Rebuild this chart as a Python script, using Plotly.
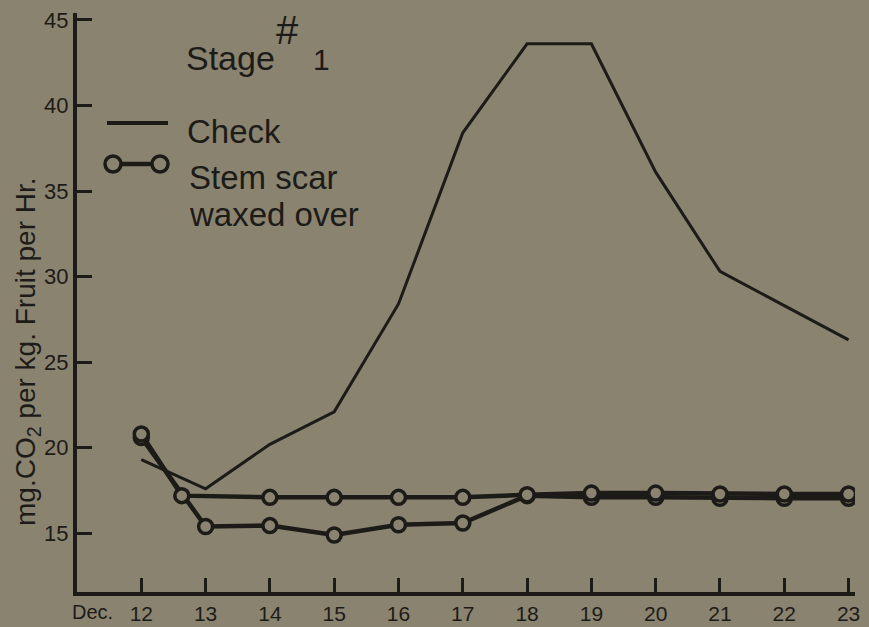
import plotly.graph_objects as go

# ---- data ----
check_days = [12, 13, 14, 15, 16, 17, 18, 19, 20, 21, 22, 23]
check_vals = [19.3, 17.6, 20.2, 22.1, 28.4, 38.4, 43.6, 43.6, 36.1, 30.3, 28.3, 26.3]

waxed_a_days = [12, 12.63, 14, 15, 16, 17, 18, 19, 20, 21, 22, 23]
waxed_a_vals = [20.8, 17.2, 17.1, 17.1, 17.1, 17.1, 17.25, 17.35, 17.35, 17.3, 17.3, 17.3]

waxed_b_days = [12, 13, 14, 15, 16, 17, 18, 19, 20, 21, 22, 23]
waxed_b_vals = [20.6, 15.4, 15.45, 14.9, 15.5, 15.6, 17.2, 17.1, 17.1, 17.05, 17.05, 17.05]

x_ticks = [12, 13, 14, 15, 16, 17, 18, 19, 20, 21, 22, 23]
x_tick_labels = ["12", "13", "14", "15", "16", "17", "18", "19", "20", "21", "22", "23"]
y_ticks = [15, 20, 25, 30, 35, 40, 45]
y_tick_labels = ["15", "20", "25", "30", "35", "40", "45"]

BG = "#8a8370"
INK = "#1d1b17"
FONT = "Liberation Sans"

W, H = 869, 627
L, R, T, B = 77, 14, 13, 35
PW, PH = W - L - R, H - T - B


def px(x):
    return (x - L) / PW


def py(y):
    return (H - B - y) / PH


fig = go.Figure()

fig.add_trace(go.Scatter(
    x=check_days, y=check_vals, mode="lines",
    line=dict(color=INK, width=3), name="Check", showlegend=False))

for d, v in ((waxed_b_days, waxed_b_vals), (waxed_a_days, waxed_a_vals)):
    fig.add_trace(go.Scatter(
        x=d, y=v, mode="lines+markers",
        line=dict(color=INK, width=4.5),
        marker=dict(symbol="circle", size=14, color=BG,
                    line=dict(color=INK, width=3.5)),
        showlegend=False))

fig.update_layout(
    template="none",
    width=W, height=H,
    margin=dict(l=L, r=R, t=T, b=B, autoexpand=False),
    paper_bgcolor=BG, plot_bgcolor=BG,
    font=dict(family=FONT, color=INK),
    showlegend=False,
    xaxis=dict(range=[11, 23.1], tickvals=x_ticks, ticktext=x_tick_labels,
               ticks="inside", ticklen=14, tickwidth=3, tickcolor=INK,
               showline=True, linewidth=4, linecolor=INK,
               showgrid=False, zeroline=False, automargin=False,
               tickfont=dict(size=21, color=INK), fixedrange=True),
    yaxis=dict(range=[11.57, 45.4], tickvals=y_ticks, ticktext=y_tick_labels,
               ticks="inside", ticklen=15, tickwidth=3, tickcolor=INK,
               showline=True, linewidth=4, linecolor=INK,
               showgrid=False, zeroline=False, automargin=False,
               tickfont=dict(size=22, color=INK), fixedrange=True),
)

# legend samples drawn as shapes
fig.add_shape(type="line", xref="paper", yref="paper",
              x0=px(107), x1=px(168), y0=py(123), y1=py(123),
              line=dict(color=INK, width=4))
fig.add_shape(type="line", xref="paper", yref="paper",
              x0=px(113), x1=px(160), y0=py(164), y1=py(164),
              line=dict(color=INK, width=4.5))
for cx in (113, 160):
    fig.add_shape(type="circle", xref="paper", yref="paper",
                  x0=px(cx - 8), x1=px(cx + 8), y0=py(164 + 8), y1=py(164 - 8),
                  line=dict(color=INK, width=3.5), fillcolor=BG)


def ann(text, x, y, size, xanchor="left", yanchor="middle", angle=0):
    fig.add_annotation(text=text, xref="paper", yref="paper",
                       x=px(x), y=py(y), xanchor=xanchor, yanchor=yanchor,
                       showarrow=False, textangle=angle,
                       font=dict(family=FONT, size=size, color=INK))


ann("Stage", 184, 58, 34)
ann("#", 274, 30, 40)
ann("1", 311, 60, 30)
ann("Check", 185, 131, 33)
ann("Stem scar", 187, 177, 33)
ann("waxed over", 187, 214, 33)
ann("Dec.", 70, 612, 20)
ann("mg.CO<sub>2</sub> per kg. Fruit per Hr.", 27, 352, 28,
    xanchor="center", angle=-90)

fig.write_html(
    "out.html",
    config={"displayModeBar": False},
    post_script="document.body.style.margin='0';"
                "document.body.style.background='" + BG + "';",
)
